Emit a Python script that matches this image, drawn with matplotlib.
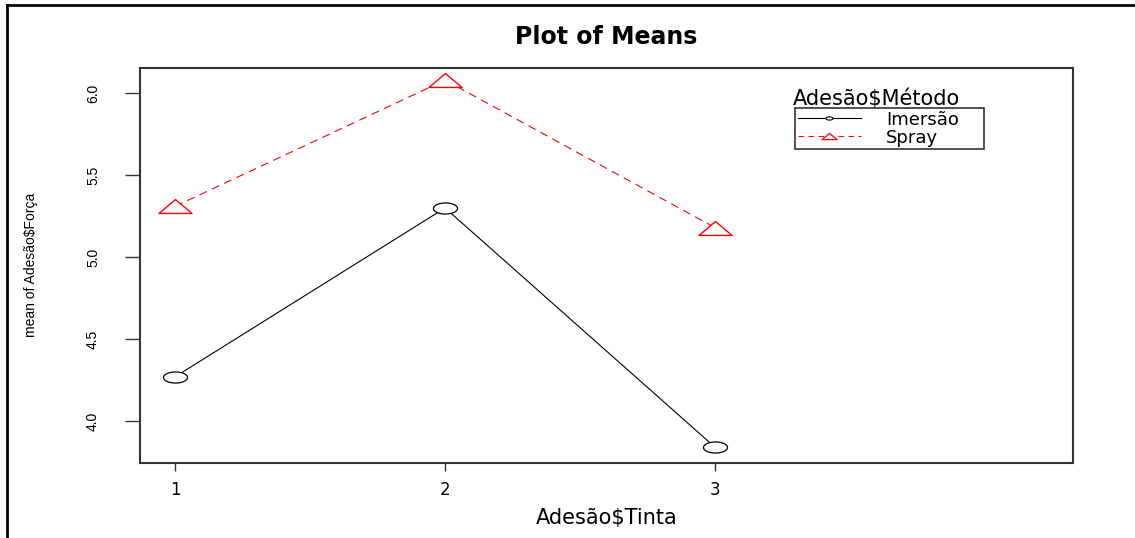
import numpy as np
import matplotlib
matplotlib.use("Agg")
import matplotlib.pyplot as plt
from matplotlib.path import Path
from matplotlib.lines import Line2D
from matplotlib import font_manager

# data
tinta = [1, 2, 3]
tick_labels = ["1", "2", "3"]
imersao = [4.27, 5.30, 3.84]
spray = [5.31, 6.08, 5.18]
metodo = ["Imersão", "Spray"]

installed = {f.name for f in font_manager.fontManager.ttflist}
narrow = "Liberation Sans Narrow" if "Liberation Sans Narrow" in installed else "Liberation Sans"
narrow_size = 12 if narrow == "Liberation Sans Narrow" else 10
plt.rcParams['font.family'] = ['DejaVu Sans']

# squashed markers, the reference is stretched sideways
t = np.linspace(0, 2 * np.pi, 61)
ellipse = Path(np.column_stack([np.cos(t), 0.46 * np.sin(t)]), closed=True)
tri = Path([(-1, -0.42), (1, -0.42), (0, 0.42), (-1, -0.42)], closed=True)

fig = plt.figure(figsize=(11.35, 5.38), dpi=100)
ax = fig.add_axes([140 / 1135, 1 - 463 / 538, 933 / 1135, 395 / 538])

ax.plot(tinta, imersao, color="black", lw=0.8, marker=ellipse, ms=17.3,
        mfc="white", mec="black", mew=0.9)
ax.plot(tinta, spray, color="red", lw=0.8, ls=(0, (7.2, 5)), marker=tri, ms=23.8,
        mfc="white", mec="red", mew=1.0)

ax.set_xlim(0.87, 4.326)
ax.set_ylim(3.744, 6.154)
ax.set_xticks(tinta)
ax.set_xticklabels(tick_labels, fontsize=12)
ax.set_yticks([4.0, 4.5, 5.0, 5.5, 6.0])
ax.set_yticklabels(["4.0", "4.5", "5.0", "5.5", "6.0"], family=[narrow], fontsize=narrow_size)
ax.tick_params(axis="x", length=5.8, width=1, color="#333333", pad=7.5)
ax.tick_params(axis="y", length=10.8, width=1, color="#333333", pad=18, labelrotation=90)
for lab in ax.get_yticklabels():
    lab.set_verticalalignment("center")
for s in ax.spines.values():
    s.set_color("#333333")
    s.set_linewidth(1.5)

ax.set_xlabel("Adesão$Tinta", fontsize=15)
ax.xaxis.set_label_coords(0.5, (463 - 518) / 395)
ax.xaxis.label.set_verticalalignment("center")
ax.set_ylabel("mean of Adesão$Força", family=[narrow], fontsize=narrow_size)
ax.yaxis.set_label_coords((31 - 140) / 933, (463 - 265) / 395)
ax.yaxis.label.set_verticalalignment("center")

fig.text(606.5 / 1135, 1 - 37 / 538, "Plot of Means", ha="center", va="center",
         fontsize=17, fontweight="bold")

# legend, title sits above the box like in R
handles = [
    Line2D([], [], color="black", lw=0.8, marker=ellipse, ms=5, mfc="white", mec="black", mew=0.8),
    Line2D([], [], color="red", lw=0.8, ls=(0, (5, 4)), marker=tri, ms=10.8, mfc="white", mec="red", mew=0.9),
]
leg = ax.legend(handles, metodo, loc="upper left",
                bbox_to_anchor=(655 / 933, 1 - 154 / 395 + 68 / 395, 189 / 933, 46 / 395),
                mode="expand", borderaxespad=0, fontsize=13, handlelength=3.5,
                handletextpad=1.4, labelspacing=0.0, borderpad=0.15,
                fancybox=False, framealpha=1)
leg.get_frame().set_edgecolor("#333333")
leg.get_frame().set_linewidth(1.2)
ax.text((793 - 140) / 933, (463 - 99) / 395, "Adesão$Método", transform=ax.transAxes,
        ha="left", va="center", fontsize=15)

# outer frame of the screenshot
fig.add_artist(Line2D([6.5 / 1135, 6.5 / 1135], [0, 1 - 4.7 / 538], color="black", lw=2,
                      transform=fig.transFigure))
fig.add_artist(Line2D([6.5 / 1135, 1], [1 - 4.7 / 538, 1 - 4.7 / 538], color="black", lw=2,
                      transform=fig.transFigure))

fig.savefig("out.png", dpi=100)
